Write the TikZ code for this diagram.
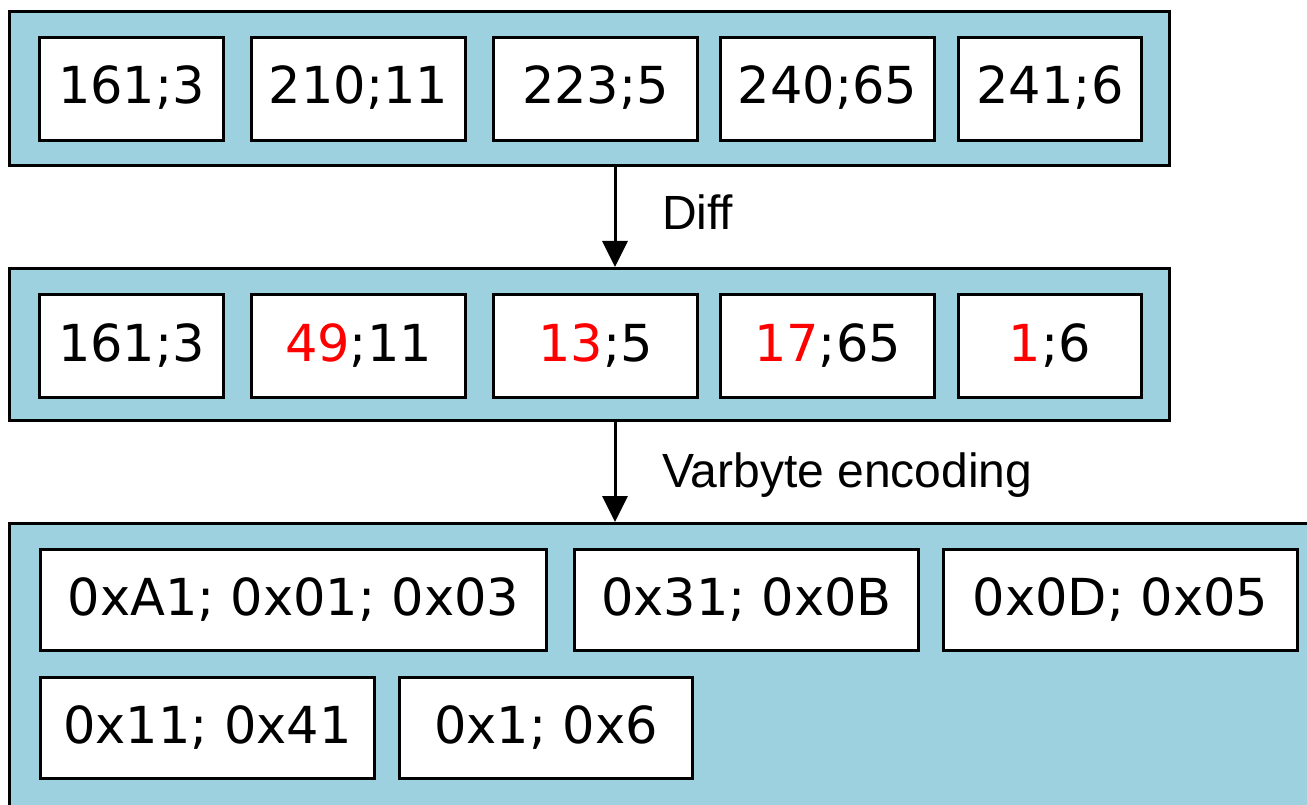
\documentclass[tikz,border=0pt]{standalone}
\usepackage{fontspec}
\setmainfont{DejaVu Sans}
\newfontfamily\labelfont{Liberation Sans}
\usetikzlibrary{arrows.meta}
\definecolor{panel}{RGB}{157,209,223}
\definecolor{hl}{RGB}{255,0,0}
\begin{document}
\begin{tikzpicture}[x=1pt,y=-1pt,
  panelbox/.style={draw=black, line width=3pt, fill=panel, inner sep=0pt, anchor=north west},
  cell/.style={draw=black, line width=3pt, fill=white, inner sep=0pt, anchor=north west,
    minimum height=103pt, text height=30pt, text depth=0pt,
    font=\fontsize{51}{60}\selectfont},
  arr/.style={line width=3pt, -{Triangle[width=25pt,length=26pt]}},
  lbl/.style={anchor=base west, inner sep=0pt, font=\labelfont\fontsize{48}{56}\selectfont}
]
\useasboundingbox (0,0) rectangle (1307,805);
\clip (0,0) rectangle (1307,805);
\fill[white] (0,0) rectangle (1307,805);
% containers
\node[panelbox, minimum width=1160pt, minimum height=154pt] (top) at (8,10) {};
\node[panelbox, minimum width=1160pt, minimum height=152pt] (mid) at (8,267) {};
\node[panelbox, minimum width=1330pt, minimum height=320pt] (bot) at (8,522) {};
% top row
\node[cell, minimum width=184pt] (t1) at (38,36) {161;3};
\node[cell, minimum width=214pt] (t2) at (250,36) {210;11};
\node[cell, minimum width=204pt] (t3) at (492,36) {223;5};
\node[cell, minimum width=214pt] (t4) at (719,36) {240;65};
\node[cell, minimum width=183pt] (t5) at (957,36) {241;6};
% middle row
\node[cell, minimum width=184pt] (m1) at (38,293) {161;3};
\node[cell, minimum width=214pt] (m2) at (250,293) {\textcolor{hl}{49};11};
\node[cell, minimum width=204pt] (m3) at (492,293) {\textcolor{hl}{13};5};
\node[cell, minimum width=214pt] (m4) at (719,293) {\textcolor{hl}{17};65};
\node[cell, minimum width=183pt] (m5) at (957,293) {\textcolor{hl}{1};6};
% bottom rows
\node[cell, minimum width=506pt, minimum height=101pt] (b1) at (39,548) {0xA1; 0x01; 0x03};
\node[cell, minimum width=344pt, minimum height=101pt] (b2) at (573,548) {0x31; 0x0B};
\node[cell, minimum width=354pt, minimum height=101pt] (b3) at (942,548) {0x0D; 0x05};
\node[cell, minimum width=334pt, minimum height=101pt] (b4) at (39,676) {0x11; 0x41};
\node[cell, minimum width=293pt, minimum height=101pt] (b5) at (398,676) {0x1; 0x6};
% arrows
\coordinate (ax) at (615,0);
\draw[arr] (top.south -| ax) -- (mid.north -| ax);
\draw[arr] (mid.south -| ax) -- (bot.north -| ax);
% labels
\node[lbl] (l1) at (662,230) {Diff};
\node[lbl] (l2) at (662,487) {Varbyte encoding};
\end{tikzpicture}
\end{document}
